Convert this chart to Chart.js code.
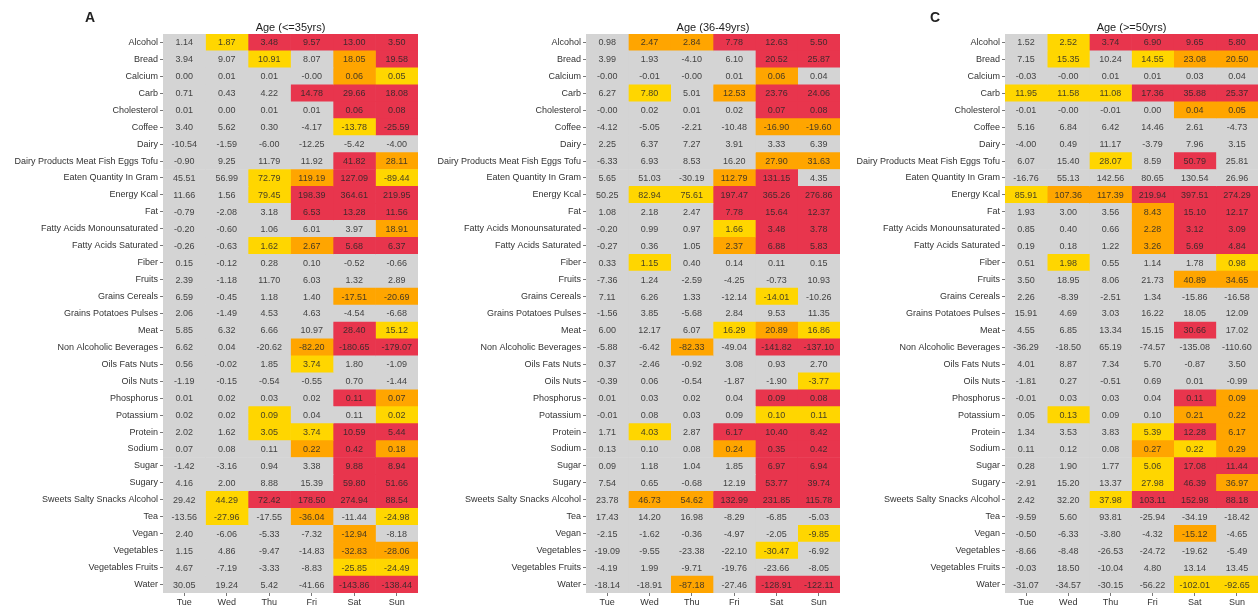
<!DOCTYPE html>
<html><head><meta charset="utf-8">
<script src="https://cdn.jsdelivr.net/npm/chart.js@4"></script>
<style>
html,body{margin:0;padding:0;background:#fff;width:1258px;height:611px;overflow:hidden}
.p{position:absolute;top:0;height:611px}
</style></head><body>
<div class="p" style="left:0;width:420px"><canvas id="cA"></canvas></div>
<div class="p" style="left:420px;width:420px"><canvas id="cB"></canvas></div>
<div class="p" style="left:840px;width:418px"><canvas id="cC"></canvas></div>
<script>
const foods = ['Alcohol','Bread','Calcium','Carb','Cholesterol','Coffee','Dairy','Dairy Products Meat Fish Eggs Tofu','Eaten Quantity In Gram','Energy Kcal','Fat','Fatty Acids Monounsaturated','Fatty Acids Saturated','Fiber','Fruits','Grains Cereals','Grains Potatoes Pulses','Meat','Non Alcoholic Beverages','Oils Fats Nuts','Oils Nuts','Phosphorus','Potassium','Protein','Sodium','Sugar','Sugary','Sweets Salty Snacks Alcohol','Tea','Vegan','Vegetables','Vegetables Fruits','Water'];
const days = ['Tue','Wed','Thu','Fri','Sat','Sun'];
const titles = ['Age (<=35yrs)','Age (36-49yrs)','Age (>=50yrs)'];
const letters = ['A','B','C'];

const valuesA = [
[1.14,1.87,3.48,9.57,13.00,3.50],[3.94,9.07,10.91,8.07,18.05,19.58],[0.00,0.01,0.01,-0.00,0.06,0.05],
[0.71,0.43,4.22,14.78,29.66,18.08],[0.01,0.00,0.01,0.01,0.06,0.08],[3.40,5.62,0.30,-4.17,-13.78,-25.59],
[-10.54,-1.59,-6.00,-12.25,-5.42,-4.00],[-0.90,9.25,11.79,11.92,41.82,28.11],[45.51,56.99,72.79,119.19,127.09,-89.44],
[11.66,1.56,79.45,198.39,364.61,219.95],[-0.79,-2.08,3.18,6.53,13.28,11.56],[-0.20,-0.60,1.06,6.01,3.97,18.91],
[-0.26,-0.63,1.62,2.67,5.68,6.37],[0.15,-0.12,0.28,0.10,-0.52,-0.66],[2.39,-1.18,11.70,6.03,1.32,2.89],
[6.59,-0.45,1.18,1.40,-17.51,-20.69],[2.06,-1.49,4.53,4.63,-4.54,-6.68],[5.85,6.32,6.66,10.97,28.40,15.12],
[6.62,0.04,-20.62,-82.20,-180.65,-179.07],[0.56,-0.02,1.85,3.74,1.80,-1.09],[-1.19,-0.15,-0.54,-0.55,0.70,-1.44],
[0.01,0.02,0.03,0.02,0.11,0.07],[0.02,0.02,0.09,0.04,0.11,0.02],[2.02,1.62,3.05,3.74,10.59,5.44],
[0.07,0.08,0.11,0.22,0.42,0.18],[-1.42,-3.16,0.94,3.38,9.88,8.94],[4.16,2.00,8.88,15.39,59.80,51.66],
[29.42,44.29,72.42,178.50,274.94,88.54],[-13.56,-27.96,-17.55,-36.04,-11.44,-24.98],[2.40,-6.06,-5.33,-7.32,-12.94,-8.18],
[1.15,4.86,-9.47,-14.83,-32.83,-28.06],[4.67,-7.19,-3.33,-8.83,-25.85,-24.49],[30.05,19.24,5.42,-41.66,-143.86,-138.44]
];
const levelsA = ['gyrrrr','ggygor','ggggoy','gggrrr','ggggrr','ggggyr','gggggg','ggggro','ggyory','ggyrrr','gggrrr','gggggo','ggyorr','gggggg','gggggg','ggggoo','gggggg','ggggry','gggorr','gggygg','gggggg','ggggro','ggyggy','ggyyrr','gggoro','ggggrr','ggggrr','gyrrrr','gygogy','ggggog','ggggoo','ggggyy','ggggrr'];

const valuesB = [
[0.98,2.47,2.84,7.78,12.63,5.50],[3.99,1.93,-4.10,6.10,20.52,25.87],[-0.00,-0.01,-0.00,0.01,0.06,0.04],
[6.27,7.80,5.01,12.53,23.76,24.06],[-0.00,0.02,0.01,0.02,0.07,0.08],[-4.12,-5.05,-2.21,-10.48,-16.90,-19.60],
[2.25,6.37,7.27,3.91,3.33,6.39],[-6.33,6.93,8.53,16.20,27.90,31.63],[5.65,51.03,-30.19,112.79,131.15,4.35],
[50.25,82.94,75.61,197.47,365.26,276.86],[1.08,2.18,2.47,7.78,15.64,12.37],[-0.20,0.99,0.97,1.66,3.48,3.78],
[-0.27,0.36,1.05,2.37,6.88,5.83],[0.33,1.15,0.40,0.14,0.11,0.15],[-7.36,1.24,-2.59,-4.25,-0.73,10.93],
[7.11,6.26,1.33,-12.14,-14.01,-10.26],[-1.56,3.85,-5.68,2.84,9.53,11.35],[6.00,12.17,6.07,16.29,20.89,16.86],
[-5.88,-6.42,-82.33,-49.04,-141.82,-137.10],[0.37,-2.46,-0.92,3.08,0.93,2.70],[-0.39,0.06,-0.54,-1.87,-1.90,-3.77],
[0.01,0.03,0.02,0.04,0.09,0.08],[-0.01,0.08,0.03,0.09,0.10,0.11],[1.71,4.03,2.87,6.17,10.40,8.42],
[0.13,0.10,0.08,0.24,0.35,0.42],[0.09,1.18,1.04,1.85,6.97,6.94],[7.54,0.65,-0.68,12.19,53.77,39.74],
[23.78,46.73,54.62,132.99,231.85,115.78],[17.43,14.20,16.98,-8.29,-6.85,-5.03],[-2.15,-1.62,-0.36,-4.97,-2.05,-9.85],
[-19.09,-9.55,-23.38,-22.10,-30.47,-6.92],[-4.19,1.99,-9.71,-19.76,-23.66,-8.05],[-18.14,-18.91,-87.18,-27.46,-128.91,-122.11]
];
const levelsB = ['goorrr','ggggrr','ggggog','gygorr','ggggrr','ggggoo','gggggg','ggggoo','gggorg','gyyrrr','gggrrr','gggyrr','gggorr','gygggg','gggggg','ggggyg','gggggg','gggyoy','ggogrr','gggggg','gggggy','ggggrr','ggggyy','gygrrr','gggorr','ggggrr','ggggrr','goorrr','gggggg','gggggy','ggggyg','gggggg','ggogrr'];

const valuesC = [
[1.52,2.52,3.74,6.90,9.65,5.80],[7.15,15.35,10.24,14.55,23.08,20.50],[-0.03,-0.00,0.01,0.01,0.03,0.04],
[11.95,11.58,11.08,17.36,35.88,25.37],[-0.01,-0.00,-0.01,0.00,0.04,0.05],[5.16,6.84,6.42,14.46,2.61,-4.73],
[-4.00,0.49,11.17,-3.79,7.96,3.15],[6.07,15.40,28.07,8.59,50.79,25.81],[-16.76,55.13,142.56,80.65,130.54,26.96],
[85.91,107.36,117.39,219.94,397.51,274.29],[1.93,3.00,3.56,8.43,15.10,12.17],[0.85,0.40,0.66,2.28,3.12,3.09],
[0.19,0.18,1.22,3.26,5.69,4.84],[0.51,1.98,0.55,1.14,1.78,0.98],[3.50,18.95,8.06,21.73,40.89,34.65],
[2.26,-8.39,-2.51,1.34,-15.86,-16.58],[15.91,4.69,3.03,16.22,18.05,12.09],[4.55,6.85,13.34,15.15,30.66,17.02],
[-36.29,-18.50,65.19,-74.57,-135.08,-110.60],[4.01,8.87,7.34,5.70,-0.87,3.50],[-1.81,0.27,-0.51,0.69,0.01,-0.99],
[-0.01,0.03,0.03,0.04,0.11,0.09],[0.05,0.13,0.09,0.10,0.21,0.22],[1.34,3.53,3.83,5.39,12.28,6.17],
[0.11,0.12,0.08,0.27,0.22,0.29],[0.28,1.90,1.77,5.06,17.08,11.44],[-2.91,15.20,13.37,27.98,46.39,36.97],
[2.42,32.20,37.98,103.11,152.98,88.18],[-9.59,5.60,93.81,-25.94,-34.19,-18.42],[-0.50,-6.33,-3.80,-4.32,-15.12,-4.65],
[-8.66,-8.48,-26.53,-24.72,-19.62,-5.49],[-0.03,18.50,-10.04,4.80,13.14,13.45],[-31.07,-34.57,-30.15,-56.22,-102.01,-92.65]
];
const levelsC = ['gyrrrr','gygyoo','gggggg','yyyrrr','ggggoo','gggggg','gggggg','ggygrg','gggggg','yoorrr','gggorr','gggorr','gggorr','gygggy','ggggoo','gggggg','gggggg','ggggrg','gggggg','gggggg','gggggg','ggggro','gyggoo','gggyro','gggoyo','gggyrr','gggyro','ggyrrr','gggggg','ggggog','gggggg','gggggg','ggggyy'];

const palette = {g:'#D4D4D4', y:'#FFD600', o:'#FFA500', r:'#E8354D'};
const FAM = '"Liberation Sans", Arial, Helvetica, sans-serif';

function fmt(v){ return (Object.is(v, -0) ? '-' : '') + v.toFixed(2); }

const cellText = {
  id:'cellText',
  afterDatasetsDraw(chart){
    const ctx = chart.ctx, vals = chart.options.plugins.cellText.values;
    ctx.save();
    ctx.font = '9px ' + FAM;
    ctx.textAlign = 'center'; ctx.textBaseline = 'middle';
    ctx.fillStyle = 'rgba(40,40,40,0.85)';
    chart.data.datasets.forEach((ds, j) => {
      chart.getDatasetMeta(j).data.forEach((el, i) => {
        ctx.fillText(fmt(vals[i][j]), (el.x + el.base) / 2, el.y + 0.5);
      });
    });
    ctx.restore();
  }
};
const heads = {
  id:'heads',
  afterDraw(chart){
    const o = chart.options.plugins.heads, a = chart.chartArea, ctx = chart.ctx;
    ctx.save();
    ctx.fillStyle = '#222'; ctx.textBaseline = 'middle';
    ctx.textAlign = 'center';
    ctx.font = '11px ' + FAM;
    ctx.fillText(o.title, (a.left + a.right) / 2, 28);
    ctx.font = 'bold 14px ' + FAM;
    ctx.textAlign = 'left';
    ctx.fillText(o.letter, o.lx, 18);
    ctx.restore();
  }
};

function build(id, vals, levels, k, yw, pr, lx){
  const datasets = days.map((d, j) => ({
    label: d,
    data: foods.map(() => 1),
    backgroundColor: levels.map(s => palette[s[j]]),
    borderWidth: 0,
    categoryPercentage: 1, barPercentage: 1
  }));
  new Chart(document.getElementById(id), {
    type:'bar',
    data:{labels: foods, datasets},
    plugins:[cellText, heads],
    options:{
      indexAxis:'y', responsive:true, maintainAspectRatio:false, animation:false,
      layout:{padding:{top:34, right:pr, left:0, bottom:0}},
      plugins:{legend:{display:false}, tooltip:{enabled:false},
        cellText:{values: vals}, heads:{title: titles[k], letter: letters[k], lx: lx}},
      scales:{
        x:{type:'linear', stacked:true, min:0, max:6,
          afterBuildTicks:s => { s.ticks = days.map((d,i) => ({value: i + 0.5})); },
          afterFit:s => { s.height = 18; },
          ticks:{callback:(v,i) => days[i], font:{size:9, family:FAM}, color:'#333', padding:1, autoSkip:false, maxRotation:0},
          grid:{drawOnChartArea:false, drawTicks:true, tickLength:3, color:'#777'},
          border:{display:false}},
        y:{type:'category', stacked:true,
          afterFit:s => { s.width = yw; },
          ticks:{font:{size:9, family:FAM}, color:'#333', padding:2, autoSkip:false},
          grid:{drawOnChartArea:false, drawTicks:true, tickLength:3, offset:false, color:'#777'},
          border:{display:false}}
      }
    }
  });
}
build('cA', valuesA, levelsA, 0, 163, 2, 85);
build('cB', valuesB, levelsB, 1, 166, 0, 507);
build('cC', valuesC, levelsC, 2, 165, 0, 90);
</script>
</body></html>
